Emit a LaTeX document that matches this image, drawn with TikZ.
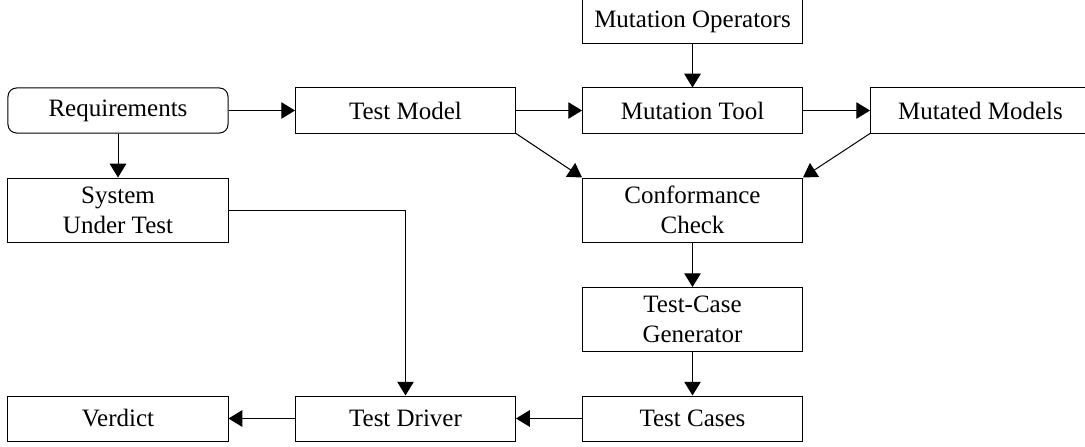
\documentclass[tikz,border=0pt]{standalone}
\usepackage{fontspec}
\setmainfont{Liberation Serif}
\usetikzlibrary{arrows.meta}
\begin{document}
\begin{tikzpicture}[x=0.4pt,y=-0.4pt,
  box/.style={draw, line width=0.4pt, minimum width=88pt, minimum height=18pt, inner sep=0pt, align=center, font=\fontsize{10}{12}\selectfont},
  tall/.style={box, minimum height=25.6pt},
  rbox/.style={box, rounded corners=3.4pt},
  arr/.style={line width=0.4pt, -{Triangle[length=5.5pt,width=6.6pt]}}]
\useasboundingbox (0,0) rectangle (1085,446);
\node[box]  (mo)  at (692.5,21.5) {Mutation Operators};
\node[rbox] (req) at (118,110.5) {Requirements};
\node[box]  (tm)  at (405.5,110.5) {Test Model};
\node[box]  (mt)  at (692.5,110.5) {Mutation Tool};
\node[box]  (mm)  at (980.5,110.5) {Mutated Models};
\node[tall] (sut) at (118,210) {System\\Under Test};
\node[tall] (cc)  at (692.5,210) {Conformance\\Check};
\node[tall] (tcg) at (692.5,319.5) {Test-Case\\Generator};
\node[box]  (ver) at (118,418.5) {Verdict};
\node[box]  (td)  at (405.5,418.5) {Test Driver};
\node[box]  (tc)  at (692.5,418.5) {Test Cases};
\draw[arr] (req) -- (tm);
\draw[arr] (req) -- (sut);
\draw[arr] (tm) -- (mt);
\draw[arr] (mo) -- (mt);
\draw[arr] (mt) -- (mm);
\draw[arr] (tm.south east) -- (cc.north west);
\draw[arr] (mm.south west) -- (cc.north east);
\draw[arr] (cc) -- (tcg);
\draw[arr] (tcg) -- (tc);
\draw[arr] (tc) -- (td);
\draw[arr] (td) -- (ver);
\draw[arr] (sut.east) -| (td.north);
\end{tikzpicture}
\end{document}
